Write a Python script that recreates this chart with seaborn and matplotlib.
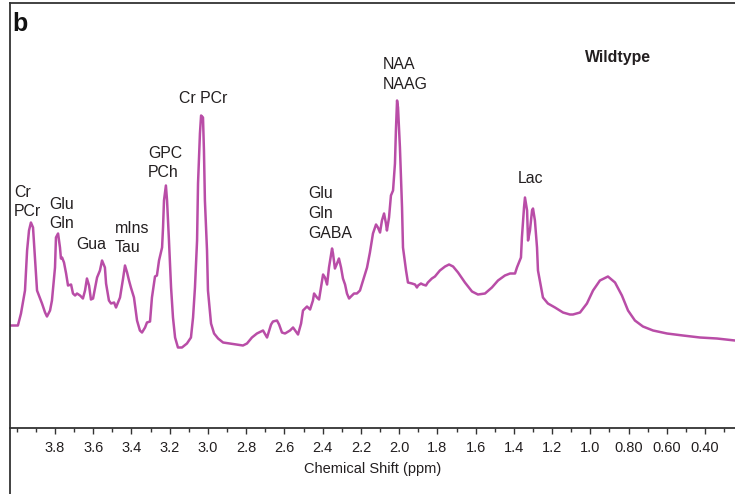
import matplotlib
matplotlib.use("Agg")
import matplotlib.pyplot as plt
import seaborn as sns
import pandas as pd
from matplotlib.lines import Line2D
from matplotlib.ticker import FixedLocator, FixedFormatter

# ---------------- data ----------------
ppm = [4.035, 3.994, 3.978, 3.957, 3.946, 3.936, 3.926, 3.915, 3.905, 3.894,
       3.878, 3.868, 3.852, 3.842, 3.826, 3.816, 3.800, 3.795, 3.784, 3.774,
       3.769, 3.763, 3.753, 3.742, 3.732, 3.716, 3.706, 3.695, 3.685, 3.669,
       3.654, 3.643, 3.633, 3.622, 3.612, 3.601, 3.591, 3.580, 3.565, 3.554,
       3.539, 3.533, 3.518, 3.507, 3.491, 3.481, 3.460, 3.444, 3.434, 3.423,
       3.413, 3.403, 3.387, 3.371, 3.356, 3.345, 3.329, 3.319, 3.303, 3.293,
       3.277, 3.267, 3.256, 3.240, 3.235, 3.230, 3.220, 3.214, 3.204, 3.193,
       3.183, 3.172, 3.157, 3.136, 3.110, 3.089, 3.078, 3.068, 3.057, 3.052,
       3.042, 3.036, 3.026, 3.021, 3.016, 3.005, 3.000, 2.984, 2.968, 2.947,
       2.921, 2.885, 2.848, 2.817, 2.796, 2.770, 2.744, 2.712, 2.691, 2.670,
       2.660, 2.639, 2.628, 2.613, 2.597, 2.571, 2.555, 2.540, 2.529, 2.513,
       2.503, 2.482, 2.466, 2.451, 2.445, 2.430, 2.419, 2.409, 2.398, 2.388,
       2.377, 2.367, 2.351, 2.346, 2.336, 2.325, 2.315, 2.304, 2.294, 2.283,
       2.273, 2.262, 2.252, 2.236, 2.221, 2.205, 2.189, 2.168, 2.153, 2.137,
       2.121, 2.111, 2.100, 2.090, 2.079, 2.069, 2.064, 2.053, 2.043, 2.032,
       2.022, 2.017, 2.011, 2.006, 1.996, 1.985, 1.980, 1.964, 1.954, 1.933,
       1.917, 1.907, 1.901, 1.886, 1.876, 1.860, 1.850, 1.829, 1.813, 1.787,
       1.760, 1.739, 1.718, 1.692, 1.656, 1.619, 1.588, 1.551, 1.515, 1.483,
       1.447, 1.420, 1.394, 1.384, 1.363, 1.358, 1.347, 1.342, 1.331, 1.326,
       1.316, 1.305, 1.300, 1.290, 1.279, 1.274, 1.258, 1.248, 1.222, 1.185,
       1.143, 1.107, 1.091, 1.054, 1.018, 0.986, 0.950, 0.908, 0.871, 0.835,
       0.803, 0.767, 0.725, 0.672, 0.599, 0.516, 0.427, 0.338, 0.244]

intensity = [102, 102, 114, 137, 177, 197, 205, 200, 170, 137,
             129, 124, 115, 111, 117, 127, 160, 190, 194, 180,
             169, 170, 165, 154, 142, 143, 134, 132, 134, 132,
             129, 137, 149, 142, 128, 129, 139, 150, 157, 167,
             160, 144, 127, 124, 125, 120, 130, 149, 162, 155,
             147, 140, 130, 107, 97, 95, 100, 105, 106, 130,
             151, 152, 167, 180, 200, 227, 242, 227, 187, 140,
             110, 90, 80, 80, 84, 90, 110, 140, 187, 244,
             294, 312, 310, 277, 227, 177, 137, 104, 94, 89,
             85, 84, 83, 82, 84, 90, 94, 97, 90, 103,
             106, 107, 103, 95, 94, 97, 100, 96, 93, 104,
             117, 121, 118, 127, 134, 130, 128, 140, 153, 150,
             143, 160, 179, 174, 159, 164, 169, 160, 149, 143,
             134, 129, 131, 134, 134, 137, 147, 160, 175, 194,
             203, 200, 195, 207, 214, 204, 197, 210, 232, 237,
             264, 297, 327, 320, 280, 220, 180, 157, 145, 144,
             143, 140, 142, 144, 143, 142, 145, 149, 151, 157,
             161, 163, 161, 155, 145, 136, 133, 134, 140, 147,
             152, 154, 154, 160, 170, 190, 220, 230, 217, 187,
             197, 217, 219, 207, 180, 157, 140, 130, 124, 120,
             115, 113, 113, 115, 124, 137, 147, 151, 145, 132,
             117, 107, 101, 97, 94, 92, 90, 89, 87]

tick_values = [3.8, 3.6, 3.4, 3.2, 3.0, 2.8, 2.6, 2.4, 2.2, 2.0,
               1.8, 1.6, 1.4, 1.2, 1.0, 0.8, 0.6, 0.4]
tick_labels = ["3.8", "3.6", "3.4", "3.2", "3.0", "2.8", "2.6", "2.4", "2.2",
               "2.0", "1.8", "1.6", "1.4", "1.2", "1.0", "0.80", "0.60", "0.40"]
minor_tick_values = [4.0, 3.9, 3.7, 3.5, 3.3, 3.1, 2.9, 2.7, 2.5, 2.3, 2.1,
                     1.9, 1.7, 1.5, 1.3, 1.1, 0.9, 0.7, 0.5, 0.3]

peak_labels = ["Cr\nPCr", "Glu\nGln", "Gua", "mIns\nTau", "GPC\nPCh", "Cr PCr",
               "Glu\nGln\nGABA", "NAA\nNAAG", "Lac"]
label_ppm = [4.014, 3.831, 3.690, 3.486, 3.314, 3.151, 2.477, 2.085, 1.379]
label_int = [225.5, 213.5, 183, 189.5, 264.5, 329, 214, 353, 249]

title_text = "Wildtype"
panel_letter = "b"
x_label = "Chemical Shift (ppm)"

# ---------------- style ----------------
sns.set_style("white")
plt.rcParams["font.family"] = ["Liberation Sans", "DejaVu Sans"]
TXT = "#231f20"
LINE = "#b94da7"
FRAME = "#333333"

W, H = 735, 494
fig = plt.figure(figsize=(W / 100, H / 100), dpi=100)
ax = fig.add_axes([10 / W, 1 - 427.5 / H, 725 / W, (427.5 - 3) / H])

df = pd.DataFrame({"ppm": ppm, "intensity": intensity})
sns.lineplot(data=df, x="ppm", y="intensity", sort=False, ax=ax,
             color=LINE, linewidth=1.8, estimator=None,
             solid_joinstyle="round", solid_capstyle="round")

ax.set_xlim(4.0354, 0.2435)
ax.set_ylim(0, 424.5)

ax.xaxis.set_major_locator(FixedLocator(tick_values))
ax.xaxis.set_major_formatter(FixedFormatter(tick_labels))
ax.xaxis.set_minor_locator(FixedLocator(minor_tick_values))
ax.tick_params(axis="x", which="major", direction="out", length=4.5, width=1.0,
               color=FRAME, labelsize=10.5, labelcolor=TXT, pad=5, bottom=True)
ax.tick_params(axis="x", which="minor", direction="out", length=3, width=1.0,
               color=FRAME, bottom=True)
ax.set_yticks([])
ax.set_ylabel("")
ax.set_xlabel(x_label, fontsize=10.5, color=TXT, labelpad=5)

for side in ["left", "top", "bottom"]:
    ax.spines[side].set_visible(True)
    ax.spines[side].set_color(FRAME)
    ax.spines[side].set_linewidth(1.3)
ax.spines["right"].set_visible(False)

# continuation of the panel frame below the axis
fig.add_artist(Line2D([10 / W, 10 / W], [0, 1 - 427.5 / H],
                      transform=fig.transFigure, color=FRAME, linewidth=1.3))

for lab, px, py in zip(peak_labels, label_ppm, label_int):
    ax.text(px, py, lab, ha="left", va="center", fontsize=11.4, color=TXT,
            linespacing=1.38)

ax.text(1.028, 370, title_text, ha="left", va="center", fontsize=11.4,
        fontweight="bold", color=TXT)

fig.text(12 / W, 1 - 24 / H, panel_letter, ha="left", va="center",
         fontsize=18, fontweight="bold", color="#111111")

fig.savefig("out.png", dpi=100)
